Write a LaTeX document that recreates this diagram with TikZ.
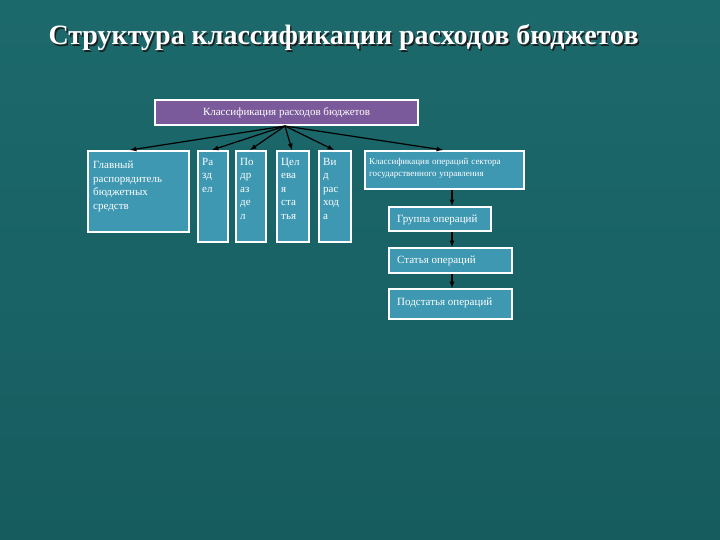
\documentclass[tikz,border=0pt]{standalone}
\usepackage{fontspec}
\setmainfont{Liberation Serif}
\begin{document}
\begin{tikzpicture}[x=1pt,y=-1pt,
 bx/.style={draw=white,line width=2.2pt,fill={rgb,255:red,62;green,152;blue,178},anchor=north west,inner sep=0pt},
 lb/.style={anchor=north west,text=white,align=left,inner sep=0pt,font=\fontsize{11}{13.5}\selectfont},
 arr/.style={-latex,black,line width=1.2pt}]
\shade[top color={rgb,255:red,28;green,105;blue,108},bottom color={rgb,255:red,22;green,92;blue,95}] (0,0) rectangle (720,540);
\useasboundingbox (0,0) rectangle (720,540);
\node[anchor=west,text={rgb,255:red,30;green,30;blue,30},font=\bfseries\fontsize{28}{30}\selectfont] at (46.5,39.5) {Структура классификации расходов бюджетов};
\node[anchor=west,text=white,font=\bfseries\fontsize{28}{30}\selectfont] (title) at (45,38) {Структура классификации расходов бюджетов};
\node[bx,fill={rgb,255:red,122;green,90;blue,154},anchor=center,minimum width=263pt,minimum height=25pt,text=white,font=\fontsize{11}{13}\selectfont] (top) at (286.5,112.5) {Классификация расходов бюджетов};
\node[bx,minimum width=101pt,minimum height=81pt] (a) at (87,150) {};
\node[bx,minimum width=30pt,minimum height=91pt] (b) at (197,150) {};
\node[bx,minimum width=30pt,minimum height=91pt] (c) at (235,150) {};
\node[bx,minimum width=32pt,minimum height=91pt] (d) at (276,150) {};
\node[bx,minimum width=32pt,minimum height=91pt] (e) at (318,150) {};
\node[bx,minimum width=159pt,minimum height=38pt] (f) at (364,150) {};
\node[bx,minimum width=102pt,minimum height=24pt] (g) at (388,206) {};
\node[bx,minimum width=123pt,minimum height=25pt] (h) at (388,247) {};
\node[bx,minimum width=123pt,minimum height=30pt] (i) at (388,288) {};
\node[lb,text width=90pt] (ta) at ([shift={(6,11)}]a.north west) {Главный распорядитель бюджетных средств};
\node[lb] (tb) at ([shift={(5,8)}]b.north west) {Ра\\зд\\ел};
\node[lb] (tc) at ([shift={(5,8)}]c.north west) {По\\др\\аз\\де\\л};
\node[lb] (td) at ([shift={(5,8)}]d.north west) {Цел\\ева\\я\\ста\\тья};
\node[lb] (te) at ([shift={(5,8)}]e.north west) {Ви\\д\\рас\\ход\\а};
\node[lb,text width=152pt,font=\fontsize{9}{12}\selectfont] (tf) at ([shift={(5,8)}]f.north west) {Классификация операций сектора государственного управления};
\node[lb] (tg) at ([shift={(9,9)}]g.north west) {Группа операций};
\node[lb] (th) at ([shift={(9,9)}]h.north west) {Статья операций};
\node[lb] (ti) at ([shift={(9,10)}]i.north west) {Подстатья операций};
\coordinate (o) at (285,126);
\foreach \t/\x in {a/130,b/212,c/250,d/292,e/334,f/443}
  \draw[arr] (o) -- (\t.north -| \x,0);
\draw[arr] (f.south -| 452,0) -- (g.north -| 452,0);
\draw[arr] (g.south -| 452,0) -- (h.north -| 452,0);
\draw[arr] (h.south -| 452,0) -- (i.north -| 452,0);
\end{tikzpicture}
\end{document}
